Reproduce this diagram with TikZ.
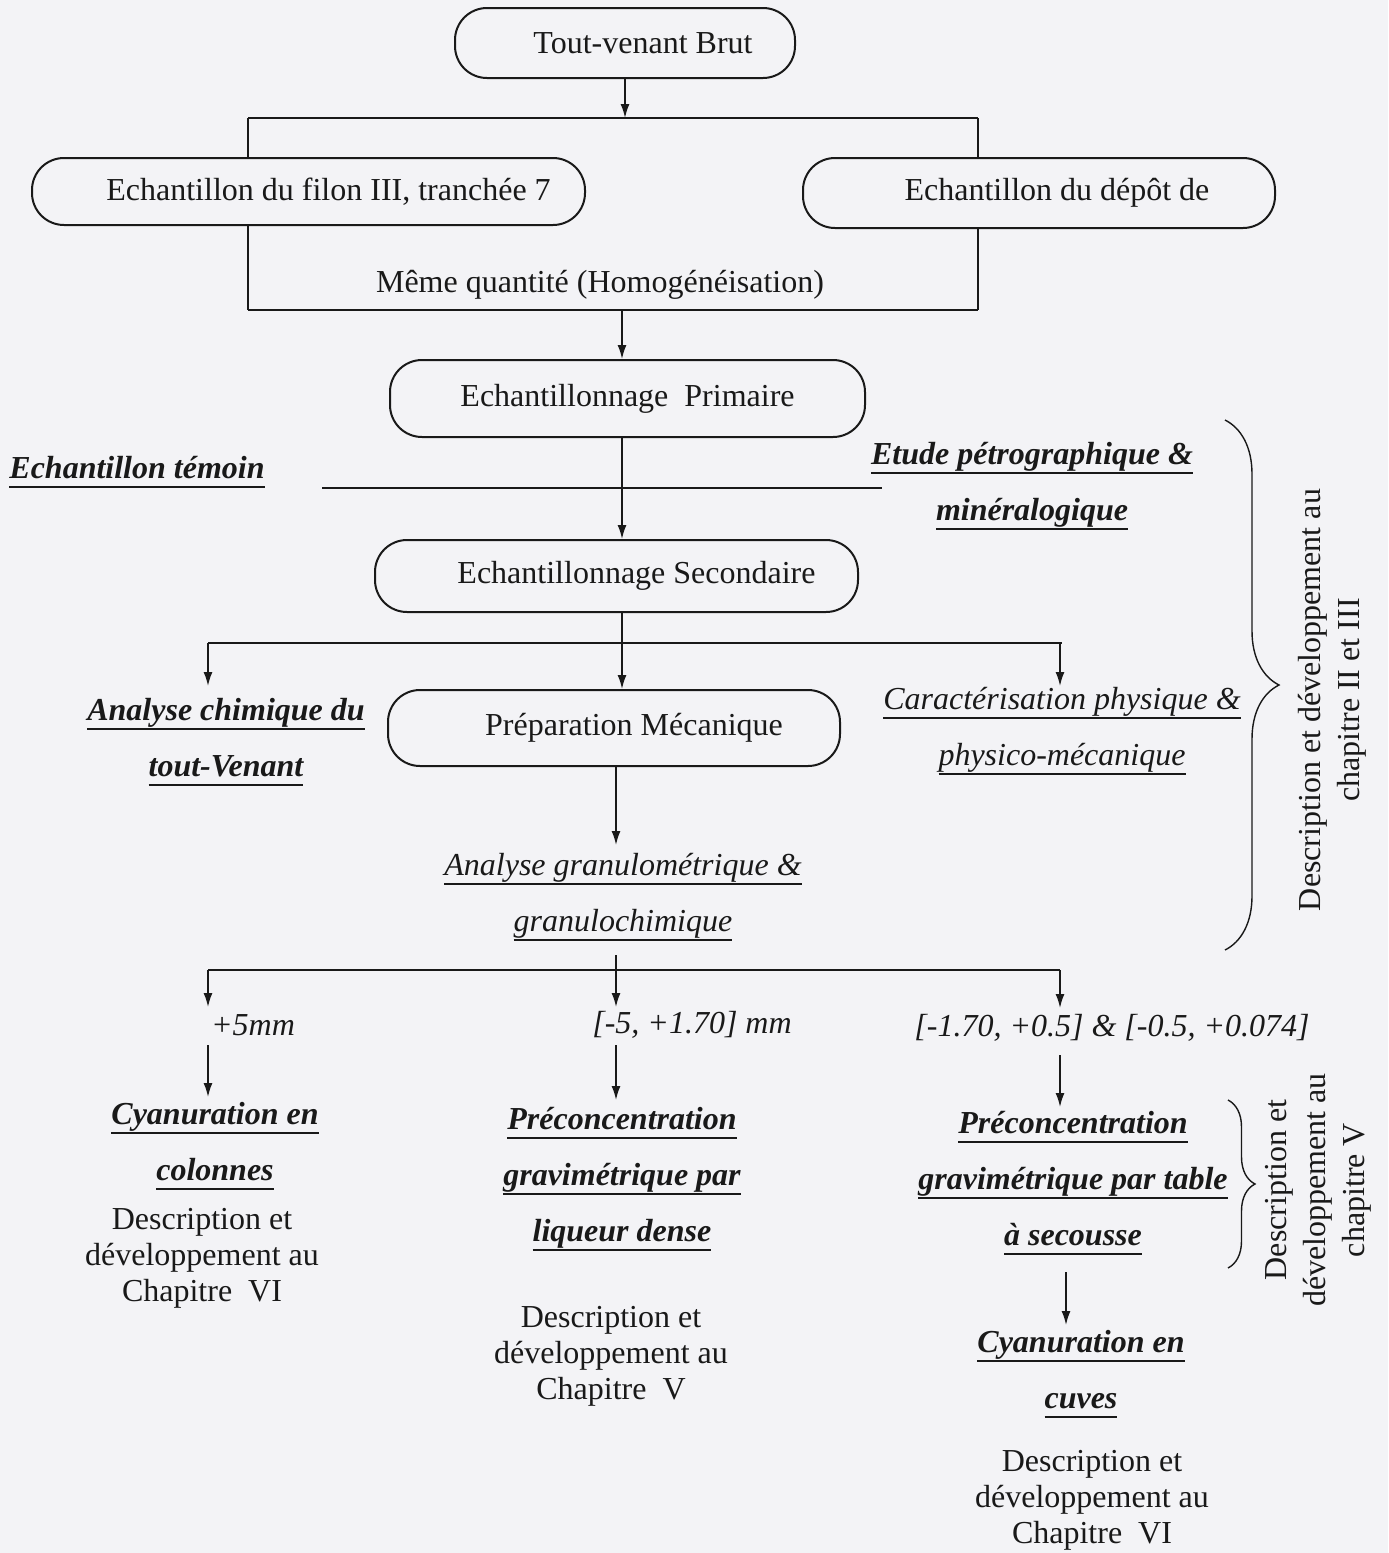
\documentclass[tikz,border=0pt]{standalone}
\usepackage{fontspec}
\setmainfont{Liberation Serif}
\usetikzlibrary{arrows.meta,decorations.pathreplacing}
\definecolor{bg}{RGB}{243,243,246}
\definecolor{ink}{RGB}{25,25,25}
% thick underline at a fixed distance below the baseline
\newcommand{\ulx}[1]{\begingroup\setbox0\hbox{#1}\leavevmode\rlap{\vrule width\wd0 height -3.6pt depth 4.7pt}\box0\endgroup}
\newcommand{\uly}[1]{\begingroup\setbox0\hbox{#1}\leavevmode\rlap{\vrule width\wd0 height -3.6pt depth 4.4pt}\box0\endgroup}
\begin{document}
\begin{tikzpicture}[x=0.5pt,y=-0.5pt,
  box/.style={draw=ink, line width=1pt, rounded corners=16pt, inner sep=0pt, text=ink,
              font=\fontsize{16}{19}\selectfont},
  bi/.style={align=center, inner sep=0pt, text=ink, font=\fontsize{16}{28}\selectfont\bfseries\itshape},
  itl/.style={align=center, inner sep=0pt, text=ink, font=\fontsize{16}{28}\selectfont\itshape},
  desc/.style={align=center, inner sep=0pt, text=ink, font=\fontsize{16}{18}\selectfont},
  rot/.style={align=center, inner sep=0pt, text=ink, rotate=90, font=\fontsize{16}{19.5}\selectfont},
  ln/.style={draw=ink, line width=0.8pt},
  bar/.style={draw=ink, line width=1.3pt},
  arr/.style={draw=ink, line width=0.8pt, -{Latex[length=7pt,width=4.5pt]}},
  brc/.style={draw=ink, line width=0.7pt, decorate}
]
\fill[bg] (0,0) rectangle (1388,1553);
\useasboundingbox (0,0) rectangle (1388,1553);

% boxes
\node[box, minimum width=170pt, minimum height=35pt] (top) at (625,43) {\hspace{18pt}Tout-venant Brut};
\node[box, minimum width=276.5pt, minimum height=33.5pt] (left) at (308.5,191.5) {\hspace{20pt}Echantillon du filon III, tranchée 7};
\node[box, minimum width=236pt, minimum height=35pt] (right) at (1039,193) {\hspace{18pt}Echantillon du dépôt de};
\node[box, minimum width=237.5pt, minimum height=38.5pt] (prim) at (627.5,398.5) {Echantillonnage\ \ Primaire};
\node[box, minimum width=241.5pt, minimum height=36pt] (sec) at (616.5,576) {\hspace{20pt}Echantillonnage Secondaire};
\node[box, minimum width=226pt, minimum height=38pt] (prep) at (614,728) {\hspace{20pt}Préparation Mécanique};

% labels
\node[desc] (meme) at (600,285) {Même quantité (Homogénéisation)};
\node[bi] (temoin) at (137,472) {\ulx{Echantillon témoin}};
\node[bi] (etude) at (1032,486) {\ulx{Etude pétrographique \&}\\\ulx{minéralogique}};
\node[bi] (chim) at (226,742) {\ulx{Analyse chimique du}\\\ulx{tout-Venant}};
\node[itl] (carac) at (1062,731) {\uly{Caractérisation physique \&}\\\uly{physico-mécanique}};
\node[itl] (granu) at (623,897) {\uly{Analyse granulométrique \&}\\\uly{granulochimique}};
\node[itl] (s1) at (253,1025) {+5mm};
\node[itl] (s2) at (692,1025) {[-5, +1.70] mm};
\node[itl] (s3) at (1112,1028) {[-1.70, +0.5] \& [-0.5, +0.074]};
\node[bi] (cyc) at (215,1146) {\ulx{Cyanuration en}\\\ulx{colonnes}};
\node[desc] (d1) at (202,1258) {Description et\\développement au\\Chapitre\ \ VI};
\node[bi] (prel) at (622,1179) {\ulx{Préconcentration}\\\ulx{gravimétrique par}\\\ulx{liqueur dense}};
\node[desc] (d2) at (611,1356) {Description et\\développement au\\Chapitre\ \ V};
\node[bi] (pret) at (1073,1183) {\ulx{Préconcentration}\\\ulx{gravimétrique par table}\\\ulx{à secousse}};
\node[bi] (cyv) at (1081,1374) {\ulx{Cyanuration en}\\\ulx{cuves}};
\node[desc] (d3) at (1092,1500) {Description et\\développement au\\Chapitre\ \ VI};
\node[rot] (r1) at (1332,700) {Description et développement au\\chapitre II et III};
\node[rot] (r2) at (1318,1190) {Description et\\développement au\\chapitre V};

% connectors
\coordinate (b1L) at (248,118); \coordinate (b1R) at (978,118); \coordinate (b1M) at (625,118);
\draw[arr] (top.south) -- (b1M);
\draw[bar] (b1L) -- (b1R);
\draw[ln] (b1L) -- (b1L |- left.north);
\draw[ln] (b1R) -- (b1R |- right.north);

\coordinate (b2L) at (248,310); \coordinate (b2R) at (978,310); \coordinate (b2M) at (622,310);
\draw[ln] (b2L |- left.south) -- (b2L);
\draw[ln] (b2R |- right.south) -- (b2R);
\draw[bar] (b2L) -- (b2R);
\draw[arr] (b2M) -- (b2M |- prim.north);

\draw[arr] (b2M |- prim.south) -- (b2M |- sec.north);
\coordinate (wL) at (322,488); \coordinate (wR) at (882,488);
\draw[bar] (wL) -- (wR);

\coordinate (b3L) at (208,643); \coordinate (b3R) at (1062,643); \coordinate (b3M) at (622,643);
\coordinate (a3L) at (208,686); \coordinate (a3R) at (1060,686);
\draw[ln] (b2M |- sec.south) -- (b3M);
\draw[bar] (b3L) -- (b3R);
\draw[arr] (b3L) -- (a3L);
\draw[arr] (1060,643) -- (a3R);
\draw[arr] (b3M) -- (b3M |- prep.north);

\coordinate (g0) at (616,845);
\draw[arr] (g0 |- prep.south) -- (g0);

\coordinate (b4T) at (616,955); \coordinate (b4M) at (616,970);
\coordinate (b4L) at (208,970); \coordinate (b4R) at (1060,970);
\draw[ln] (b4T) -- (b4M);
\draw[bar] (b4L) -- (b4R);
\coordinate (c1) at (208,1007); \coordinate (c2) at (616,1007); \coordinate (c3) at (1060,1008);
\draw[arr] (b4L) -- (c1);
\draw[arr] (b4M) -- (c2);
\draw[arr] (b4R) -- (c3);

\coordinate (e1a) at (208,1045); \coordinate (e1b) at (208,1097);
\coordinate (e2a) at (616,1045); \coordinate (e2b) at (616,1100);
\coordinate (e3a) at (1060,1055); \coordinate (e3b) at (1060,1107);
\coordinate (e4a) at (1066,1272); \coordinate (e4b) at (1066,1325);
\draw[arr] (e1a) -- (e1b);
\draw[arr] (e2a) -- (e2b);
\draw[arr] (e3a) -- (e3b);
\draw[arr] (e4a) -- (e4b);

% braces
\draw[brc, decoration={brace, amplitude=27pt}] (1225,420) -- (1225,950);
\draw[brc, decoration={brace, amplitude=13.5pt}] (1228,1100) -- (1228,1268);
\end{tikzpicture}
\end{document}
